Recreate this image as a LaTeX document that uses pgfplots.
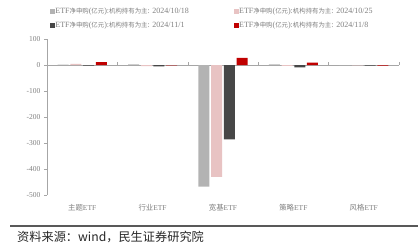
\documentclass[border=0pt]{standalone}
\usepackage{fontspec}
\setmainfont{Liberation Serif}
\newfontfamily\cjk{Noto Sans CJK SC}
\usepackage{pgfplots}
\pgfplotsset{compat=1.18}
\definecolor{cA}{HTML}{B3B3B3}
\definecolor{cB}{HTML}{E8C3C3}
\definecolor{cC}{HTML}{474747}
\definecolor{cD}{HTML}{C00000}
\definecolor{axgray}{HTML}{A6A6A6}
\definecolor{txgray}{HTML}{7F7F7F}
\newcommand{\zh}[2][6.4bp]{{\cjk\fontsize{#1}{#1}\selectfont #2}}
\newcommand{\leg}[1]{\fontsize{8bp}{9bp}\selectfont ETF\zh{净申购}(\zh{亿元}):\zh{机构持有为主}: #1}
\newcommand{\xl}[1]{\fontsize{7.5bp}{8bp}\selectfont\zh[7.4bp]{#1}ETF}
\pgfplotsset{sqleg/.style={legend image code/.code={\fill[##1,draw=none] (0bp,-2.3bp) rectangle (4.6bp,2.3bp);}}}
\begin{document}
\begin{tikzpicture}
\path[use as bounding box] (0,0) rectangle (418bp,251bp);
\begin{axis}[
  at={(47bp,56bp)}, anchor=south west,
  scale only axis, width=352bp, height=156bp,
  clip=false,
  ybar=1.7bp, bar width=11bp,
  xmin=-0.5, xmax=4.5, ymin=-500, ymax=100,
  axis lines*=left,
  x axis line style={draw=none},
  y axis line style={draw=axgray, line width=0.6bp},
  xtick={0,1,2,3,4},
  xticklabels={\xl{主题},\xl{行业},\xl{宽基},\xl{策略},\xl{风格}},
  xtick style={draw=none},
  xticklabel style={text=txgray, yshift=-3bp},
  ytick={100,0,-100,-200,-300,-400,-500},
  yticklabels={100,0,-100,-200,-300,-400,-500},
  ytick style={draw=axgray, line width=0.6bp},
  tick align=outside, major tick length=3bp,
  yticklabel style={text=txgray, font=\fontsize{7.5bp}{8bp}\selectfont},
  legend columns=2,
  legend cell align=left,
  legend style={at={(0.0085,1.199)}, anchor=north west, draw=none, fill=none,
    inner sep=0pt, column sep=0pt, row sep=6.5bp,
    nodes={inner xsep=0.6bp, inner ysep=0pt, text=txgray}},
]
\draw[axgray, line width=0.6bp] (axis cs:-0.5,0) -- (axis cs:4.5,0);
\pgfplotsinvokeforeach{0.5,1.5,2.5,3.5,4.5}{\draw[axgray, line width=0.6bp] (axis cs:#1,0) -- ([yshift=3bp]axis cs:#1,0);}
\addplot[fill=cA, draw=none, sqleg] coordinates {(0,1) (1,2) (2,-468) (3,2) (4,-1)};
\addplot[fill=cB, draw=none, sqleg] coordinates {(0,4) (1,-4) (2,-430) (3,-3) (4,-1)};
\addplot[fill=cC, draw=none, sqleg] coordinates {(0,-2) (1,-5) (2,-286) (3,-9) (4,-2)};
\addplot[fill=cD, draw=none, sqleg] coordinates {(0,11) (1,-1) (2,27) (3,9) (4,-2)};
\legend{\makebox[178bp][l]{\leg{2024/10/18}},\leg{2024/10/25},\makebox[178bp][l]{\leg{2024/11/1}},\leg{2024/11/8}}
\end{axis}
\draw[color=black!65, line width=1.2bp] (10bp,25bp) -- (418bp,25bp);
\node[anchor=west, inner sep=0pt, text=black!85] at (17bp,14bp) {\zh[12.2bp]{资料来源：wind，民生证券研究院}};
\end{tikzpicture}
\end{document}
